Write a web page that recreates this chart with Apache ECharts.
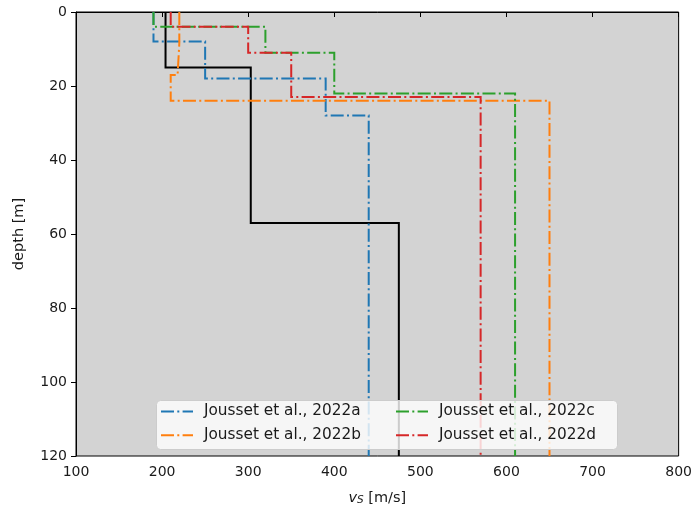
<!DOCTYPE html>
<html>
<head>
<meta charset="utf-8">
<script src="https://cdn.jsdelivr.net/npm/echarts@6/dist/echarts.min.js"></script>
<style>
  html, body { margin: 0; padding: 0; background: #ffffff; }
  #chart { width: 695px; height: 511px; }
</style>
</head>
<body>
<div id="chart"></div>
<script>
// Shear-wave velocity profiles: layer velocities (m/s) and layer boundary depths (m)
const refVs = [204, 303, 475];
const refDepths = [0, 15, 57, 120];

const aVs = [190, 250, 390, 440];
const aDepths = [0, 8, 18, 28, 120];

const bVs = [220, 218, 210, 650];
const bDepths = [0, 8.5, 17, 24, 120];

const cVs = [190, 320, 400, 610];
const cDepths = [0, 4, 11, 22, 120];

const dVs = [210, 300, 350, 570];
const dDepths = [0, 4, 11, 23, 120];

const seriesNames = ['Jousset et al., 2022a', 'Jousset et al., 2022b', 'Jousset et al., 2022c', 'Jousset et al., 2022d'];
const seriesColors = ['#1f77b4', '#ff7f0e', '#2ca02c', '#d62728'];

const xTicks = { min: 100, max: 800, step: 100 };
const yTicks = { min: 0, max: 120, step: 20 };

// turn a layered model into the corner points of its step curve
function stepProfile(vs, depths) {
  const pts = [];
  for (let i = 0; i < vs.length; i++) {
    pts.push([vs[i], depths[i]]);
    pts.push([vs[i], depths[i + 1]]);
  }
  return pts;
}

const dashDot = [13, 3.3, 2, 3.3];
const FONT = 'DejaVu Sans';
const INVISIBLE = 'rgba(0,0,0,0)';

const profiles = [[aVs, aDepths], [bVs, bDepths], [cVs, cDepths], [dVs, dDepths]];

const series = [{
  name: 'reference',
  type: 'line',
  data: stepProfile(refVs, refDepths),
  symbol: 'none',
  lineStyle: { color: '#000000', width: 2, join: 'miter' },
  itemStyle: { color: INVISIBLE },
  z: 2
}];
profiles.forEach(([vs, ds], i) => {
  series.push({
    name: seriesNames[i],
    type: 'line',
    data: stepProfile(vs, ds),
    symbol: 'none',
    // markers are not drawn; keep the legend marker invisible so only the line shows
    itemStyle: { color: INVISIBLE, borderColor: INVISIBLE, borderWidth: 0 },
    lineStyle: { color: seriesColors[i], width: 2, type: dashDot, join: 'miter' },
    z: 2
  });
});

const legendCommon = {
  orient: 'vertical',
  itemWidth: 32,
  itemHeight: 14,
  itemGap: 8.7,
  padding: 0,
  selectedMode: false,
  itemStyle: { color: INVISIBLE, borderColor: INVISIBLE, borderWidth: 0 },
  textStyle: { fontFamily: FONT, fontSize: 15.3, color: '#1a1a1a', padding: [0, 0, 0, 6] },
  z: 5
};

const chart = echarts.init(document.getElementById('chart'), null, { renderer: 'canvas' });
chart.setOption({
  animation: false,
  backgroundColor: '#ffffff',
  grid: {
    left: 76, right: 13, top: 12, bottom: 53,
    show: true, backgroundColor: '#d3d3d3', borderColor: '#000000', borderWidth: 1
  },
  xAxis: {
    type: 'value',
    min: xTicks.min, max: xTicks.max, interval: xTicks.step,
    splitLine: { show: false },
    axisLine: { show: true, lineStyle: { color: '#000000', width: 1 } },
    axisTick: { show: true, inside: false, length: 5, lineStyle: { color: '#000000' } },
    axisLabel: { fontFamily: FONT, fontSize: 14, color: '#1a1a1a', margin: 9 },
    name: '{v|v}{s|S} [m/s]',
    nameLocation: 'middle',
    nameGap: 34,
    nameTextStyle: {
      fontFamily: FONT, fontSize: 14.5, color: '#1a1a1a',
      rich: {
        v: { fontFamily: FONT, fontSize: 14.5, fontStyle: 'italic', color: '#1a1a1a' },
        s: { fontFamily: FONT, fontSize: 10.5, fontStyle: 'italic', color: '#1a1a1a', padding: [5, 0, 0, 0] }
      }
    }
  },
  yAxis: {
    type: 'value',
    inverse: true,
    min: yTicks.min, max: yTicks.max, interval: yTicks.step,
    splitLine: { show: false },
    axisLine: { show: true, lineStyle: { color: '#000000', width: 1 } },
    axisTick: { show: true, inside: false, length: 5, lineStyle: { color: '#000000' } },
    axisLabel: { fontFamily: FONT, fontSize: 14, color: '#1a1a1a', margin: 9 },
    name: 'depth [m]',
    nameLocation: 'middle',
    nameGap: 49,
    nameRotate: 90,
    nameTextStyle: { fontFamily: FONT, fontSize: 14.5, color: '#1a1a1a' }
  },
  legend: [
    Object.assign({}, legendCommon, { left: 160, top: 404, data: [seriesNames[0], seriesNames[1]] }),
    Object.assign({}, legendCommon, { left: 395, top: 404, data: [seriesNames[2], seriesNames[3]] })
  ],
  graphic: [{
    type: 'rect',
    left: 156, top: 400,
    shape: { width: 461, height: 49, r: 4 },
    style: { fill: 'rgba(255,255,255,0.8)', stroke: '#cccccc', lineWidth: 1 },
    z: 4
  }],
  series: series
});
</script>
</body>
</html>
